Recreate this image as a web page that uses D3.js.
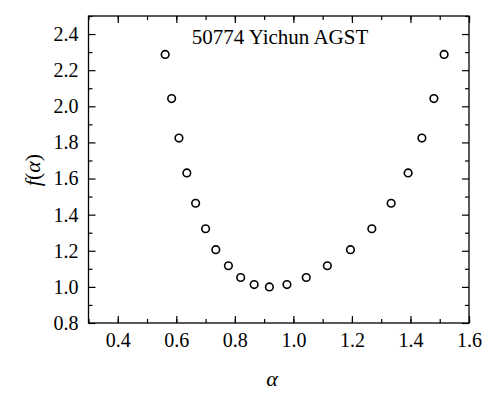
<!DOCTYPE html>
<html><head><meta charset="utf-8">
<script src="https://cdn.jsdelivr.net/npm/d3@7"></script>
<style>body{margin:0;background:#fff}</style>
</head><body><svg id="c" width="500" height="408"></svg>
<script>
const alpha=[0.562,0.584,0.609,0.636,0.666,0.700,0.735,0.778,0.820,0.866,0.918,0.978,1.044,1.116,1.195,1.268,1.334,1.392,1.439,1.480,1.515];
const fAlpha=[2.287,2.043,1.824,1.631,1.463,1.322,1.206,1.117,1.052,1.013,1.0,1.013,1.052,1.117,1.206,1.322,1.463,1.631,1.824,2.043,2.287];
const xTicks=[0.4,0.6,0.8,1.0,1.2,1.4,1.6];
const yTicks=[0.8,1.0,1.2,1.4,1.6,1.8,2.0,2.2,2.4];
const title="50774 Yichun AGST";
const FF="'Liberation Serif','DejaVu Serif',serif";
const L=88.5,R=469,T=16,B=323;
const svg=d3.select("#c");
const x=d3.scaleLinear().domain([0.3,1.6]).range([L,R]);
const y=d3.scaleLinear().domain([0.8,2.5]).range([B,T]);
const xMinor=d3.range(0.3,1.601,0.1), yMinor=d3.range(0.9,2.501,0.2);
function ax(g,axis){g.call(axis);g.attr("font-family",FF);g.select(".domain").remove();g.selectAll("line").attr("stroke","#000").attr("stroke-width",1.2);g.selectAll("text").attr("font-family",FF);}
const fmt=d3.format(".1f");
svg.append("g").attr("transform",`translate(0,${B})`).call(g=>ax(g,d3.axisBottom(x).tickValues(xTicks).tickFormat(fmt).tickSize(-7).tickPadding(10)))
 .selectAll("text").attr("font-size",20).attr("fill","#000");
svg.append("g").attr("transform",`translate(0,${B})`).call(g=>ax(g,d3.axisBottom(x).tickValues(xMinor).tickFormat("").tickSize(-4)));
svg.append("g").attr("transform",`translate(0,${T})`).call(g=>ax(g,d3.axisTop(x).tickValues(xTicks).tickFormat("").tickSize(-7)));
svg.append("g").attr("transform",`translate(0,${T})`).call(g=>ax(g,d3.axisTop(x).tickValues(xMinor).tickFormat("").tickSize(-4)));
svg.append("g").attr("transform",`translate(${L},0)`).call(g=>ax(g,d3.axisLeft(y).tickValues(yTicks).tickFormat(fmt).tickSize(-7).tickPadding(10)))
 .selectAll("text").attr("font-size",20).attr("fill","#000");
svg.append("g").attr("transform",`translate(${L},0)`).call(g=>ax(g,d3.axisLeft(y).tickValues(yMinor).tickFormat("").tickSize(-4)));
svg.append("g").attr("transform",`translate(${R},0)`).call(g=>ax(g,d3.axisRight(y).tickValues(yTicks).tickFormat("").tickSize(-7)));
svg.append("g").attr("transform",`translate(${R},0)`).call(g=>ax(g,d3.axisRight(y).tickValues(yMinor).tickFormat("").tickSize(-4)));
svg.append("rect").attr("x",L).attr("y",T).attr("width",R-L).attr("height",B-T).attr("fill","none").attr("stroke","#000").attr("stroke-width",1.3);
svg.append("g").selectAll("circle").data(alpha).join("circle")
 .attr("cx",d=>x(d)).attr("cy",(d,i)=>y(fAlpha[i])).attr("r",3.8).attr("fill","none").attr("stroke","#000").attr("stroke-width",1.6);
svg.append("text").attr("font-family",FF).attr("x",280).attr("y",44).attr("text-anchor","middle").attr("font-size",21).text(title);
svg.append("text").attr("font-family",FF).attr("x",272).attr("y",386).attr("text-anchor","middle").attr("font-size",22).attr("font-style","italic").text("α");
const yl=svg.append("text").attr("font-family",FF).attr("transform","translate(40,170) rotate(-90)").attr("text-anchor","middle").attr("font-size",22);
yl.append("tspan").attr("font-style","italic").text("f");
yl.append("tspan").text("(");
yl.append("tspan").attr("font-style","italic").text("α");
yl.append("tspan").text(")");
</script></body></html>
